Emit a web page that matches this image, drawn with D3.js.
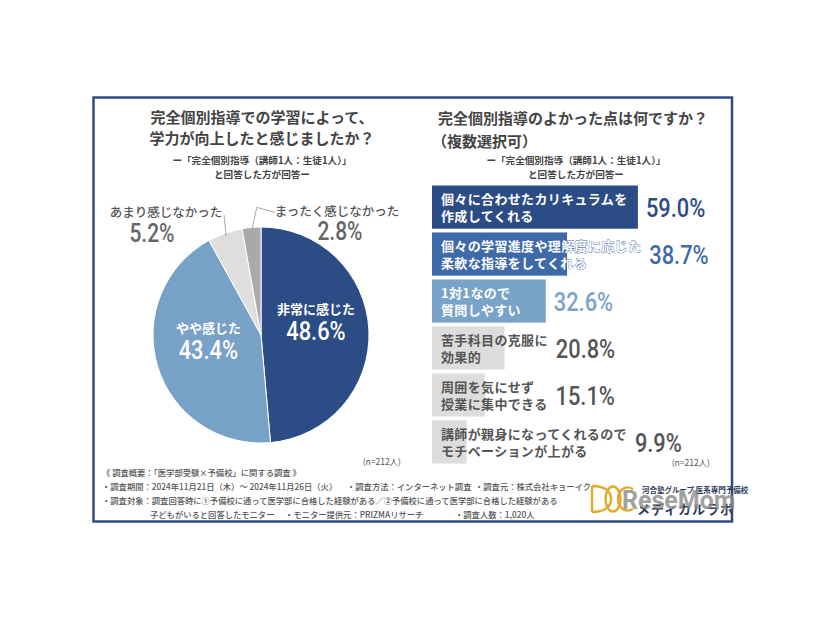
<!DOCTYPE html>
<html lang="ja">
<head>
<meta charset="utf-8">
<script src="https://cdn.jsdelivr.net/npm/d3@7"></script>
<style>
  html, body { margin: 0; padding: 0; background: #ffffff; }
  svg { display: block; }
  .jp { font-family: "Noto Sans CJK JP", "Noto Sans", sans-serif; }
  .num { font-family: Roboto, "Liberation Sans", sans-serif; }
</style>
</head>
<body>
<svg id="chart" width="826" height="620"></svg>
<script>
// ---------------- DATA ----------------
const pieCategories = ["非常に感じた", "やや感じた", "あまり感じなかった", "まったく感じなかった"];
const pieValues = [48.6, 43.4, 5.2, 2.8];
const pieColors = ["#2c4c85", "#78a1c7", "#dedede", "#a9a9a9"];

const barCategories = [
  ["個々に合わせたカリキュラムを", "作成してくれる"],
  ["個々の学習進度や理解度に応じた", "柔軟な指導をしてくれる"],
  ["1対1なので", "質問しやすい"],
  ["苦手科目の克服に", "効果的"],
  ["周囲を気にせず", "授業に集中できる"],
  ["講師が親身になってくれるので", "モチベーションが上がる"]
];
const barValues = [59.0, 38.7, 32.6, 20.8, 15.1, 9.9];
const barColors = ["#2c4c85", "#3f6aa9", "#7aa3c9", "#dddddd", "#dddddd", "#dddddd"];
const barTextColors = ["#ffffff", "#ffffff", "#ffffff", "#555555", "#555555", "#555555"];
const barValueColors = ["#2c4c85", "#3f6aa9", "#7aa3c9", "#555555", "#555555", "#555555"];

const leftTitle = ["完全個別指導での学習によって、", "学力が向上したと感じましたか？"];
const rightTitle = ["完全個別指導のよかった点は何ですか？", "（複数選択可）"];
const subTitle = ["ー「完全個別指導（講師1人：生徒1人）」", "と回答した方が回答ー"];
const sampleNote = "(n=212人)";
const footerLines = [
  [["《 調査概要：「医学部受験×予備校」に関する調査 》", 0]],
  [["・調査期間：2024年11月21日（木）～ 2024年11月26日（火）", 0], ["・調査方法：インターネット調査", 245], ["・調査元：株式会社キョーイク", 373]],
  [["・調査対象：調査回答時に①予備校に通って医学部に合格した経験がある／②予備校に通って医学部に合格した経験がある", 0]],
  [["子どもがいると回答したモニター", 48], ["・モニター提供元：PRIZMAリサーチ", 183], ["・調査人数：1,020人", 353]]
];

// ---------------- DRAW ----------------
const svg = d3.select("#chart");

// frame
svg.append("rect")
  .attr("x", 93.5).attr("y", 97.5).attr("width", 638.5).attr("height", 424)
  .attr("fill", "#ffffff").attr("stroke", "#2e4b88").attr("stroke-width", 2.5);

// ---- titles ----
const tLeft = svg.append("g").attr("class", "jp");
leftTitle.forEach((t, i) => {
  tLeft.append("text").attr("x", 262).attr("y", 116 + i * 21)
    .attr("text-anchor", "middle").attr("dominant-baseline", "central")
    .attr("font-size", 15).attr("font-weight", 700).attr("fill", "#444").text(t);
});
subTitle.forEach((t, i) => {
  tLeft.append("text").attr("x", 262).attr("y", 160 + i * 14)
    .attr("text-anchor", "middle").attr("dominant-baseline", "central")
    .attr("font-size", 9.6).attr("font-weight", 700).attr("fill", "#444").text(t);
});
const tRight = svg.append("g").attr("class", "jp");
rightTitle.forEach((t, i) => {
  tRight.append("text").attr("x", i === 0 ? 438 : 432).attr("y", 117 + i * 23)
    .attr("dominant-baseline", "central")
    .attr("font-size", 15).attr("font-weight", 700).attr("fill", "#444").text(t);
});
subTitle.forEach((t, i) => {
  tRight.append("text").attr("x", 576).attr("y", 160 + i * 14)
    .attr("text-anchor", "middle").attr("dominant-baseline", "central")
    .attr("font-size", 9.6).attr("font-weight", 700).attr("fill", "#444").text(t);
});

// ---- pie ----
const cx = 261, cy = 335, R = 108;
const pieData = pieCategories.map((c, i) => ({ cat: c, value: pieValues[i], color: pieColors[i] }));
const pie = d3.pie().sort(null).value(d => d.value).startAngle(0).endAngle(2 * Math.PI);
const arcs = pie(pieData);
const arc = d3.arc().innerRadius(0).outerRadius(R);
const labelArc = d3.arc().innerRadius(55).outerRadius(55);
const gPie = svg.append("g").attr("transform", `translate(${cx},${cy})`);
gPie.selectAll("path.slice").data(arcs).join("path")
  .attr("class", "slice")
  .attr("d", arc).attr("fill", d => d.data.color)
  .attr("stroke", "#ffffff").attr("stroke-width", 1);

function numText(g, x, y, txt, size, color, anchor) {
  g.append("text")
    .attr("class", "num")
    .attr("transform", `translate(${x},${y}) scale(0.84,1)`)
    .attr("text-anchor", anchor || "start")
    .attr("dominant-baseline", "central")
    .attr("font-size", size).attr("font-weight", 500)
    .attr("fill", color).text(txt);
}

// inside labels (first two slices)
arcs.slice(0, 2).forEach(a => {
  const [lx, ly] = labelArc.centroid(a);
  gPie.append("text").attr("class", "jp")
    .attr("x", lx).attr("y", ly - 24)
    .attr("text-anchor", "middle").attr("dominant-baseline", "central")
    .attr("font-size", 13).attr("font-weight", 700).attr("fill", "#fff").text(a.data.cat);
  numText(gPie, lx, ly - 1, a.data.value.toFixed(1) + "%", 26, "#fff", "middle");
});

// outside labels with leader lines (last two slices)
const outer = [
  { idx: 2, line: [[-2, -21]], nameX: -95, nameY: -124, numX: -109, numY: -101 },
  { idx: 3, line: [[5, -23], [23, -18]], nameX: 76, nameY: -125, numX: 79, numY: -103 }
];
outer.forEach(o => {
  const a = arcs[o.idx];
  const mid = (a.startAngle + a.endAngle) / 2;
  const px = (R - 3) * Math.sin(mid), py = -(R - 3) * Math.cos(mid);
  const pts = [[px, py]];
  o.line.forEach(([dx, dy]) => pts.push([px + dx, py + dy]));
  gPie.append("path").attr("d", d3.line()(pts))
    .attr("fill", "none").attr("stroke", "#aaaaaa").attr("stroke-width", 1);
  gPie.append("text").attr("class", "jp")
    .attr("x", o.nameX).attr("y", o.nameY)
    .attr("text-anchor", "middle").attr("dominant-baseline", "central")
    .attr("font-size", 12.5).attr("font-weight", 500).attr("fill", "#555").text(a.data.cat);
  numText(gPie, o.numX, o.numY, a.data.value.toFixed(1) + "%", 25, "#666", "middle");
});

svg.append("text").attr("class", "jp")
  .attr("x", 401).attr("y", 461).attr("text-anchor", "end").attr("dominant-baseline", "central")
  .attr("font-size", 8.5).attr("fill", "#555").text(sampleNote);

// ---- bars ----
const x = d3.scaleLinear().domain([0, 100]).range([432, 432 + 349]);
const y = d3.scaleBand().domain(barCategories.map((d, i) => i)).range([185.5, 463.5]).paddingInner(0.08).paddingOuter(0);
const gBar = svg.append("g");
barCategories.forEach((lines, i) => {
  const y0 = y(i), h = y.bandwidth(), yc = y0 + h / 2;
  gBar.append("rect").attr("x", x(0)).attr("y", y0)
    .attr("width", x(barValues[i]) - x(0)).attr("height", h)
    .attr("fill", barColors[i]);
  let maxEnd = x(barValues[i]);
  lines.forEach((t, k) => {
    const tx = gBar.append("text").attr("class", "jp")
      .attr("x", 441).attr("y", yc + (k === 0 ? -8.5 : 8.5))
      .attr("dominant-baseline", "central")
      .attr("font-size", 13).attr("font-weight", 700).attr("letter-spacing", 0.35)
      .attr("fill", barTextColors[i]).text(t);
    if (barTextColors[i] === "#ffffff") {
      tx.attr("stroke", barColors[i]).attr("stroke-width", 0.8).attr("paint-order", "stroke");
    }
    maxEnd = Math.max(maxEnd, 441 + tx.node().getComputedTextLength());
  });
  numText(gBar, maxEnd + 8, yc + 1, barValues[i].toFixed(1) + "%", 26, barValueColors[i], "start");
});

svg.append("text").attr("class", "jp")
  .attr("x", 710).attr("y", 462).attr("text-anchor", "end").attr("dominant-baseline", "central")
  .attr("font-size", 8.5).attr("fill", "#555").text(sampleNote);

// ---- footer ----
const gF = svg.append("g").attr("class", "jp");
footerLines.forEach((segs, i) => {
  segs.forEach(([t, dx]) => {
    gF.append("text").attr("x", 102 + dx).attr("y", 472 + i * 14)
      .attr("dominant-baseline", "central")
      .attr("font-size", 8.3).attr("font-weight", 500).attr("fill", "#555").text(t);
  });
});

// ---- logo (drawn shapes) ----
const gL = svg.append("g").attr("fill", "none").attr("stroke", "#e2aa2c").attr("stroke-width", 2.4);
gL.append("path").attr("d", "M592,486 L592,512 M592,486 C606,486 611,492 611,499 C611,506 606,512 592,512");
gL.append("ellipse").attr("cx", 613).attr("cy", 499).attr("rx", 7.5).attr("ry", 12.5);
gL.append("path").attr("d", "M633,489 C624,484 618,492 618,499 C618,506 624,514 633,509");
const gT = svg.append("g");
gT.append("text").attr("class", "jp").attr("x", 642).attr("y", 489)
  .attr("dominant-baseline", "central").attr("font-size", 7.5).attr("font-weight", 700).attr("fill", "#2c3a5a")
  .text("河合塾グループ 医系専門予備校");
gT.append("text").attr("class", "jp").attr("x", 637).attr("y", 508)
  .attr("dominant-baseline", "central").attr("font-size", 13).attr("font-weight", 700).attr("fill", "#2c3a5a")
  .attr("letter-spacing", 1).text("メディカルラボ");
gT.append("text").attr("x", 622).attr("y", 500)
  .attr("dominant-baseline", "central").attr("font-family", "Roboto, sans-serif")
  .attr("font-size", 25).attr("font-weight", 700).attr("fill", "#8a8a8a").attr("opacity", 0.8)
  .text("ReseMom");
</script>
</body>
</html>
